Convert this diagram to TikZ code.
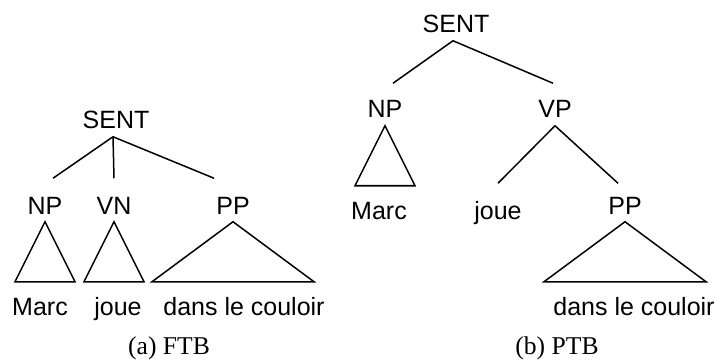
\documentclass[tikz,border=0pt]{standalone}
\usepackage{fontspec}
\setmainfont{Liberation Serif}
\setsansfont{Liberation Sans}
\usepackage{tikz}

\begin{document}
\begin{tikzpicture}[%
        x=0.5pt, y=-0.5pt,
        cat/.style={font=\sffamily\fontsize{12.5}{15}\selectfont, anchor=base,
                    inner xsep=0pt, inner ysep=3.5pt, text height=9pt, text depth=0pt},
        word/.style={cat},
        capt/.style={font=\rmfamily\fontsize{12.8}{15}\selectfont, anchor=base, inner sep=0pt},
        every path/.style={line width=0.75pt},
        >=latex
        ]
    \useasboundingbox (0,0) rectangle (721,363);

    % Baum (a)
    \node[cat] (SENT-a) at (116,129) {SENT};
    \node[cat] (NP-a)   at (45,214)  {NP};
    \node[cat] (VN-a)   at (114,214) {VN};
    \node[cat] (PP-a)   at (233,214) {PP};
    \node[word] (Marc-a) at (40,315)  {Marc};
    \node[word] (joue-a) at (118,315) {joue};
    \node[word] (dans-a) at (244,315) {dans le couloir};

    % Kanten (a)
    \draw   ([xshift=-1.5pt]SENT-a.south) -- ([xshift=4pt,yshift=5pt]NP-a.north)
            ([xshift=-1.5pt]SENT-a.south) -- ([yshift=5pt]VN-a.north)
            ([xshift=-1.5pt]SENT-a.south) -- ([xshift=-9.5pt,yshift=5pt]PP-a.north);

    % Dreiecke (a)
    \draw   (NP-a.south) -- ++(-30,60) -- ++(60,0) -- cycle;
    \draw   (VN-a.south) -- ++(-30,60) -- ++(60,0) -- cycle;
    \draw   (PP-a.south) -- ++(-81,60) -- ++(162,0) -- cycle;

    % Baum (b)
    \node[cat] (SENT-b) at (456,33)  {SENT};
    \node[cat] (NP-b)   at (385,118) {NP};
    \node[cat] (VP-b)   at (555,118) {VP};
    \node[word] (Marc-b) at (379,219) {Marc};
    \node[word] (joue-b) at (498,219) {joue};
    \node[cat] (PP-b)   at (625,214) {PP};
    \node[word] (dans-b) at (634,315) {dans le couloir};

    % Kanten (b)
    \draw   ([xshift=-1.5pt]SENT-b.south) -- ([xshift=4pt,yshift=4.5pt]NP-b.north)
            ([xshift=-1.5pt]SENT-b.south) -- ([xshift=-1pt,yshift=4.5pt]VP-b.north);
    \draw   (VP-b.south) -- ([yshift=5pt]joue-b.north)
            (VP-b.south) -- ([xshift=-3.5pt,yshift=2.5pt]PP-b.north);

    % Dreiecke (b)
    \draw   (NP-b.south) -- ++(-30,60) -- ++(60,0) -- cycle;
    \draw   (PP-b.south) -- ++(-81,60) -- ++(162,0) -- cycle;

    % Unterschriften
    \node[capt] (cap-a) at (169,354) {(a) FTB};
    \node[capt] (cap-b) at (557,354) {(b) PTB};
\end{tikzpicture}
\end{document}
